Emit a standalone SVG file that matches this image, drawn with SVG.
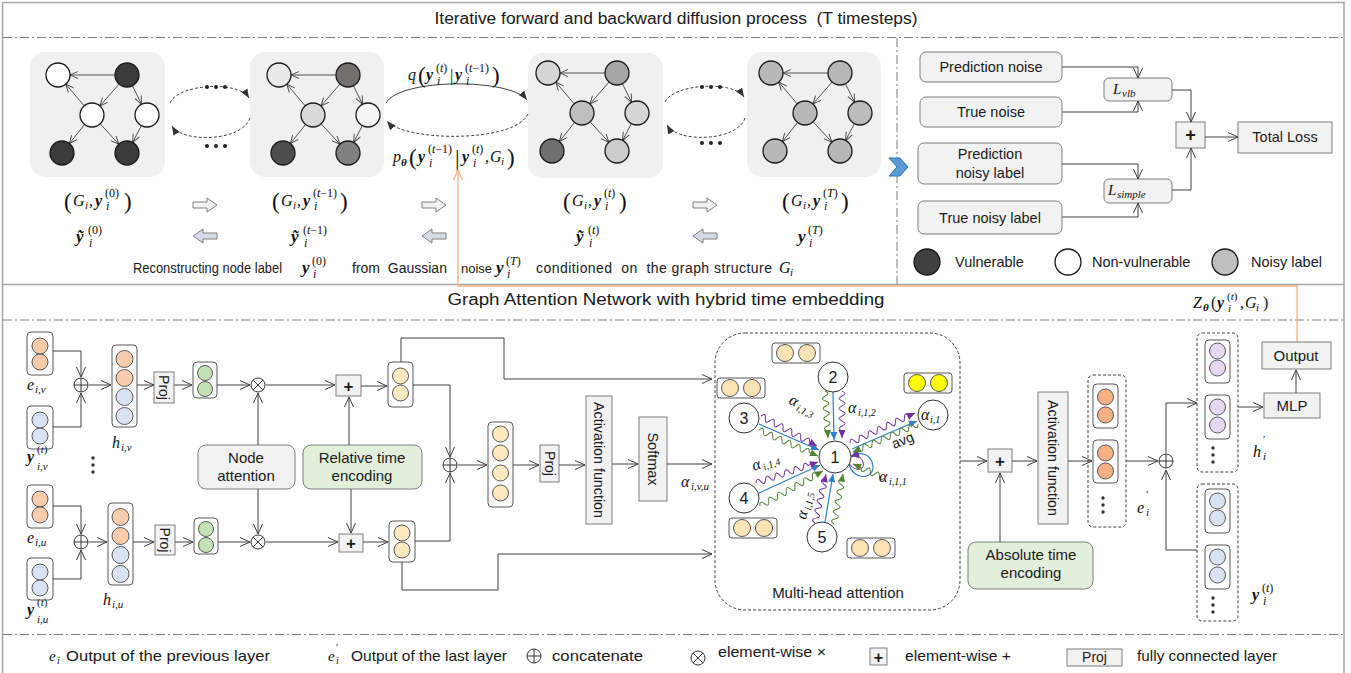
<svg xmlns="http://www.w3.org/2000/svg" width="1351" height="673" viewBox="0 0 1351 673" font-size="14">
<style>
.ln{fill:none;stroke:#404040;stroke-width:1}
.a{marker-end:url(#oa)}
.tx{font-family:"Liberation Sans",Arial,sans-serif;fill:#1a1a1a}
.c{text-anchor:middle}
.mi{font-family:"Liberation Serif","Times New Roman",serif;font-style:italic;font-size:16px;fill:#111}
.up{font-style:normal}
.bi{font-weight:bold}
.s{font-size:11px}
.s2{font-size:12px}
.bp{font-size:23px;font-style:normal}
.bx{fill:#f2f2f2;stroke:#7f7f7f;stroke-width:1}
.gbx{fill:#e2efda;stroke:#7f7f7f;stroke-width:1}
.sk{fill:#fff;stroke:#595959;stroke-width:1}
.cc{stroke:#595959;stroke-width:1}
.co{fill:#f8cbad}
.cb{fill:#dae3f3}
.cg{fill:#c5e0b4}
.cy{fill:#fde8c0}
.cO{fill:#f4b183}
.cp{fill:#e6d7f2}
.dd{fill:none;stroke:#7f7f7f;stroke-width:1;stroke-dasharray:9 3 2 3}
.frm{fill:none;stroke:#a6a6a6;stroke-width:1.5}
.gp{fill:#f0f0f0}
.nd{stroke:#1a1a1a;stroke-width:1.3}
.dash{fill:none;stroke:#404040;stroke-width:1;stroke-dasharray:3 2}
.wb{fill:none;stroke:#2f80c8;stroke-width:1.2;marker-end:url(#mb)}
.wp{fill:none;stroke:#7030a0;stroke-width:1;marker-end:url(#mp)}
.wg{fill:none;stroke:#548235;stroke-width:1;marker-end:url(#mg)}
.an{fill:#fff;stroke:#333;stroke-width:1}
</style>
<defs>
<marker id="oa" markerUnits="userSpaceOnUse" markerWidth="12" markerHeight="12" viewBox="0 0 12 12" refX="11" refY="6" orient="auto"><path d="M1,1.5 L11,6 L1,10.5" fill="none" stroke="#404040" stroke-width="1"/></marker>
<marker id="sa" markerUnits="userSpaceOnUse" markerWidth="9" markerHeight="9" viewBox="0 0 9 9" refX="8.5" refY="4.5" orient="auto"><path d="M0.5,1 L8.5,4.5 L0.5,8" fill="none" stroke="#404040" stroke-width="0.9"/></marker>
<marker id="oo" markerUnits="userSpaceOnUse" markerWidth="12" markerHeight="12" viewBox="0 0 12 12" refX="11" refY="6" orient="auto"><path d="M1,1.5 L11,6 L1,10.5" fill="none" stroke="#f4b183" stroke-width="1.3"/></marker>
<marker id="fa" markerUnits="userSpaceOnUse" markerWidth="9" markerHeight="9" viewBox="0 0 10 10" refX="10" refY="5" orient="auto"><path d="M0,1 L10,5 L0,9 Z" fill="#333"/></marker>
<marker id="mb" markerUnits="userSpaceOnUse" markerWidth="9" markerHeight="8" viewBox="0 0 10 10" refX="10" refY="5" orient="auto"><path d="M0,0.5 L10,5 L0,9.5 Z" fill="#2f80c8"/></marker>
<marker id="mp" markerUnits="userSpaceOnUse" markerWidth="9" markerHeight="8" viewBox="0 0 10 10" refX="10" refY="5" orient="auto"><path d="M0,0.5 L10,5 L0,9.5 Z" fill="#7030a0"/></marker>
<marker id="mg" markerUnits="userSpaceOnUse" markerWidth="9" markerHeight="8" viewBox="0 0 10 10" refX="10" refY="5" orient="auto"><path d="M0,0.5 L10,5 L0,9.5 Z" fill="#548235"/></marker>
<g id="gedges" fill="none" stroke="#404040" stroke-width="0.9" marker-end="url(#sa)">
<path d="M57,0 L12,0"/><path d="M26.2,30.9 L7.8,9.1"/><path d="M61.1,9 L41.9,31"/><path d="M74.4,10.7 L83.6,29.3"/><path d="M26.6,49.4 L11.4,68.6"/><path d="M42.1,48.8 L60.9,69.2"/><path d="M83.4,50.6 L74.6,67.4"/>
</g>
<g id="oplus"><circle r="7" fill="#fff" stroke="#333"/><path d="M-7,0H7M0,-7V7" stroke="#333"/></g>
<g id="otimes"><circle r="7" fill="#fff" stroke="#333"/><path d="M-4.9,-4.9L4.9,4.9M-4.9,4.9L4.9,-4.9" stroke="#333"/></g>
<path id="barR" d="M0,4H14V0L24,7L14,14V10H0Z"/>
<path id="barL" d="M24,4H10V0L0,7L10,14V10H24Z"/>
<g id="vdots" fill="#333"><circle cx="0" cy="-7" r="1.7"/><circle cx="0" cy="0" r="1.7"/><circle cx="0" cy="7" r="1.7"/></g>
<g id="pair"><rect x="0" y="0" width="48" height="20" rx="3" class="sk"/><circle cx="13" cy="10" r="8.5" class="cc"/><circle cx="35" cy="10" r="8.5" class="cc"/></g>
</defs>
<rect width="1351" height="673" fill="#fff"/>

<!-- outer frame and panel separators -->
<g id="frame">
<path class="frm" d="M2.5,673V2.5H1344V673M2.5,284.5H1344"/>
<path class="dd" d="M3,37.5H1344M897,38V284M3,320H1344M3,634.5H1344"/>
<text class="tx c" x="676" y="24" font-size="16" textLength="483" lengthAdjust="spacingAndGlyphs">Iterative forward and backward diffusion process&#160; (T timesteps)</text>
<text class="tx c" x="666" y="305" font-size="16" textLength="437" lengthAdjust="spacingAndGlyphs">Graph Attention Network with hybrid time embedding</text>
</g>

<!-- diffusion chain: graph states -->
<g id="graph-0">
<rect x="30" y="52" width="135" height="125" rx="15" class="gp"/>
<g transform="translate(58,75)"><use href="#gedges"/>
<circle cx="0" cy="0" r="12" class="nd" fill="#fff"/><circle cx="69" cy="0" r="12" class="nd" fill="#3b3b3b"/><circle cx="34" cy="40" r="12" class="nd" fill="#fff"/><circle cx="89" cy="40" r="12" class="nd" fill="#fff"/><circle cx="4" cy="78" r="12" class="nd" fill="#3b3b3b"/><circle cx="69" cy="78" r="12" class="nd" fill="#3b3b3b"/></g>
</g>
<g id="graph-t-1">
<rect x="250" y="52" width="134" height="125" rx="15" class="gp"/>
<g transform="translate(279,75)"><use href="#gedges"/>
<circle cx="0" cy="0" r="12" class="nd" fill="#e9e9e9"/><circle cx="69" cy="0" r="12" class="nd" fill="#747070"/><circle cx="34" cy="40" r="12" class="nd" fill="#d9d9d9"/><circle cx="89" cy="40" r="12" class="nd" fill="#f4f4f4"/><circle cx="4" cy="78" r="12" class="nd" fill="#4d4d4d"/><circle cx="69" cy="78" r="12" class="nd" fill="#808080"/></g>
</g>
<g id="graph-t">
<rect x="528" y="53" width="135" height="125" rx="15" class="gp"/>
<g transform="translate(548,73)"><use href="#gedges"/>
<circle cx="0" cy="0" r="12" class="nd" fill="#d6d6d6"/><circle cx="69" cy="0" r="12" class="nd" fill="#a6a6a6"/><circle cx="34" cy="40" r="12" class="nd" fill="#bfbfbf"/><circle cx="89" cy="40" r="12" class="nd" fill="#d6d6d6"/><circle cx="4" cy="78" r="12" class="nd" fill="#6e6e6e"/><circle cx="69" cy="78" r="12" class="nd" fill="#cccccc"/></g>
</g>
<g id="graph-T">
<rect x="747" y="52" width="134" height="125" rx="15" class="gp"/>
<g transform="translate(771,73)"><use href="#gedges"/>
<circle cx="0" cy="0" r="12" class="nd" fill="#b8b8b8"/><circle cx="69" cy="0" r="12" class="nd" fill="#b8b8b8"/><circle cx="34" cy="40" r="12" class="nd" fill="#b8b8b8"/><circle cx="89" cy="40" r="12" class="nd" fill="#bcbcbc"/><circle cx="4" cy="78" r="12" class="nd" fill="#b8b8b8"/><circle cx="69" cy="78" r="12" class="nd" fill="#b8b8b8"/></g>
</g>

<!-- forward / reverse transitions -->
<g id="transitions">
<path class="dash" d="M170,103 C178,84 238,80 249,98" marker-end="url(#fa)"/>
<path class="dash" d="M250,118 C242,142 182,143 172,126" marker-end="url(#fa)"/>
<path class="ln" stroke="#595959" d="M386,103 C400,78 510,78 527,100" marker-end="url(#fa)"/>
<path class="dash" d="M528,114 C515,143 405,142 387,121" marker-end="url(#fa)"/>
<path class="dash" d="M665,102 C673,84 733,80 744,97" marker-end="url(#fa)"/>
<path class="dash" d="M745,118 C737,142 677,143 667,125" marker-end="url(#fa)"/>
<g fill="#222"><circle cx="207" cy="87" r="2"/><circle cx="216" cy="87" r="2"/><circle cx="225" cy="87" r="2"/><circle cx="207" cy="146" r="2"/><circle cx="216" cy="146" r="2"/><circle cx="225" cy="146" r="2"/>
<circle cx="702" cy="87" r="2"/><circle cx="711" cy="87" r="2"/><circle cx="720" cy="87" r="2"/><circle cx="702" cy="143" r="2"/><circle cx="711" cy="143" r="2"/><circle cx="720" cy="143" r="2"/></g>
<g stroke="#7f7f7f" stroke-width="1">
<use href="#barR" x="193" y="198" fill="#f2f2f2"/><use href="#barL" x="193" y="229" fill="#d6dce5"/>
<use href="#barR" x="422" y="198" fill="#f2f2f2"/><use href="#barL" x="422" y="229" fill="#d6dce5"/>
<use href="#barR" x="693" y="198" fill="#f2f2f2"/><use href="#barL" x="693" y="229" fill="#d6dce5"/>
</g>
<text class="mi" font-size="17"><tspan x="408" y="80">q</tspan><tspan x="418" y="83" class="bp">(</tspan><tspan x="426" y="80" class="bi">y</tspan><tspan x="436" y="72" class="s2 up">(</tspan><tspan class="s2">t</tspan><tspan class="s2 up">)</tspan><tspan x="437" y="85" class="s2">i</tspan><tspan x="450" y="81" class="up">|</tspan><tspan x="455" y="80" class="bi">y</tspan><tspan x="465" y="72" class="s2 up">(</tspan><tspan class="s2">t</tspan><tspan class="s2 up">−1)</tspan><tspan x="466" y="85" class="s2">i</tspan><tspan x="492" y="83" class="bp">)</tspan></text>
<text class="mi"><tspan x="393" y="162">p</tspan><tspan x="401" y="166" class="s bi">θ</tspan><tspan x="409" y="165" class="bp">(</tspan><tspan x="418" y="162" class="bi">y</tspan><tspan x="428" y="153" class="s2 up">(</tspan><tspan class="s2">t</tspan><tspan class="s2 up">−1)</tspan><tspan x="429" y="167" class="s2">i</tspan><tspan x="455" y="166" class="bp" font-size="24">|</tspan><tspan x="462" y="162" class="bi">y</tspan><tspan x="472" y="153" class="s2 up">(</tspan><tspan class="s2">t</tspan><tspan class="s2 up">)</tspan><tspan x="473" y="167" class="s2">i</tspan><tspan x="485" y="162" class="up">,</tspan><tspan x="490" y="162">G</tspan><tspan x="501" y="165" class="s">i</tspan><tspan x="507" y="165" class="bp">)</tspan></text>
</g>

<!-- state labels -->
<g id="state-labels">
<text class="mi"><tspan x="64" y="209" class="bp">(</tspan><tspan x="73" y="206">G</tspan><tspan x="85" y="209" class="s">i</tspan><tspan x="89" y="206" class="up">,</tspan><tspan x="95" y="206" class="bi">y</tspan><tspan x="105" y="197" class="s2 up">(0)</tspan><tspan x="106" y="210" class="s2">i</tspan><tspan x="124" y="209" class="bp">)</tspan></text>
<text class="mi"><tspan x="76" y="242" class="bi" font-size="17">ỹ</tspan><tspan x="88" y="234" class="s2 up">(0)</tspan><tspan x="89" y="247" class="s2">i</tspan></text>
<text class="mi"><tspan x="272" y="209" class="bp">(</tspan><tspan x="281" y="206">G</tspan><tspan x="293" y="209" class="s">i</tspan><tspan x="297" y="206" class="up">,</tspan><tspan x="303" y="206" class="bi">y</tspan><tspan x="313" y="197" class="s2 up">(</tspan><tspan class="s2">t</tspan><tspan class="s2 up">−1)</tspan><tspan x="314" y="210" class="s2">i</tspan><tspan x="340" y="209" class="bp">)</tspan></text>
<text class="mi"><tspan x="291" y="242" class="bi" font-size="17">ỹ</tspan><tspan x="303" y="234" class="s2 up">(</tspan><tspan class="s2">t</tspan><tspan class="s2 up">−1)</tspan><tspan x="304" y="247" class="s2">i</tspan></text>
<text class="mi"><tspan x="563" y="209" class="bp">(</tspan><tspan x="572" y="206">G</tspan><tspan x="584" y="209" class="s">i</tspan><tspan x="588" y="206" class="up">,</tspan><tspan x="594" y="206" class="bi">y</tspan><tspan x="604" y="197" class="s2 up">(</tspan><tspan class="s2">t</tspan><tspan class="s2 up">)</tspan><tspan x="605" y="210" class="s2">i</tspan><tspan x="619" y="209" class="bp">)</tspan></text>
<text class="mi"><tspan x="576" y="242" class="bi" font-size="17">ỹ</tspan><tspan x="588" y="234" class="s2 up">(</tspan><tspan class="s2">t</tspan><tspan class="s2 up">)</tspan><tspan x="589" y="247" class="s2">i</tspan></text>
<text class="mi"><tspan x="782" y="209" class="bp">(</tspan><tspan x="791" y="206">G</tspan><tspan x="803" y="209" class="s">i</tspan><tspan x="807" y="206" class="up">,</tspan><tspan x="813" y="206" class="bi">y</tspan><tspan x="823" y="197" class="s2 up">(</tspan><tspan class="s2">T</tspan><tspan class="s2 up">)</tspan><tspan x="824" y="210" class="s2">i</tspan><tspan x="841" y="209" class="bp">)</tspan></text>
<text class="mi"><tspan x="798" y="242" class="bi" font-size="17">y</tspan><tspan x="808" y="234" class="s2 up">(</tspan><tspan class="s2">T</tspan><tspan class="s2 up">)</tspan><tspan x="809" y="247" class="s2">i</tspan></text>
<text class="tx" x="133" y="273" font-size="14" textLength="149" lengthAdjust="spacingAndGlyphs">Reconstructing node label</text>
<text class="mi"><tspan x="302" y="273" class="bi" font-size="17">y</tspan><tspan x="312" y="265" class="s2 up">(0)</tspan><tspan x="313" y="278" class="s2">i</tspan></text>
<text class="tx" x="352" y="273" font-size="14">from&#160; Gaussian</text>
<text class="tx" x="461" y="273" font-size="13">noise</text>
<text class="mi"><tspan x="496" y="273" class="bi" font-size="17">y</tspan><tspan x="506" y="265" class="s2 up">(</tspan><tspan class="s2">T</tspan><tspan class="s2 up">)</tspan><tspan x="507" y="278" class="s2">i</tspan></text>
<text class="tx" x="536" y="273" font-size="14" textLength="236">conditioned&#160; on&#160; the graph structure</text>
<text class="mi"><tspan x="779" y="273">G</tspan><tspan x="790" y="276" class="s">i</tspan></text>
</g>

<!-- loss computation -->
<g id="loss">
<rect x="920" y="52" width="142" height="30" rx="6" class="bx"/><text class="tx c" x="991" y="72" font-size="14.5">Prediction noise</text>
<rect x="920" y="97" width="142" height="30" rx="6" class="bx"/><text class="tx c" x="991" y="117" font-size="14.5">True noise</text>
<rect x="918" y="143" width="144" height="41" rx="6" class="bx"/><text class="tx c" x="990" y="159" font-size="14.5">Prediction</text><text class="tx c" x="990" y="178" font-size="14.5">noisy label</text>
<rect x="918" y="201" width="144" height="33" rx="6" class="bx"/><text class="tx c" x="990" y="223" font-size="14.5">True noisy label</text>
<rect x="1104" y="78" width="68" height="23" rx="5" class="bx"/><text class="mi"><tspan x="1113" y="94" font-size="15">L</tspan><tspan x="1122" y="97" class="s">vlb</tspan></text>
<rect x="1104" y="179" width="68" height="24" rx="5" class="bx"/><text class="mi"><tspan x="1108" y="195" font-size="15">L</tspan><tspan x="1117" y="198" class="s">simple</tspan></text>
<rect x="1176" y="122" width="29" height="26" class="bx"/><text class="tx c" x="1190.5" y="141" font-size="18" font-weight="bold">+</text>
<rect x="1238" y="122" width="94" height="31" class="bx"/><text class="tx c" x="1285" y="142" font-size="14.5">Total Loss</text>
</g>
<g id="loss-links" class="ln">
<path class="a" d="M1062,67H1138V78"/>
<path class="a" d="M1062,112H1138V101"/>
<path class="a" d="M1172,90H1191V122"/>
<path class="a" d="M1062,164H1138V179"/>
<path class="a" d="M1062,217H1138V203"/>
<path class="a" d="M1172,190H1191V148"/>
<path class="a" d="M1205,137H1238"/>
</g>
<path id="chevron" d="M889,158H900L908,167L900,176H889L897,167Z" fill="#5b9bd5" stroke="#2e75b6" stroke-width="1"/>
<g id="node-legend">
<circle cx="927" cy="262" r="13" class="nd" fill="#404040"/><text class="tx" x="955" y="267" font-size="14.5">Vulnerable</text>
<circle cx="1068" cy="262" r="13" class="nd" fill="#fff"/><text class="tx" x="1092" y="267" font-size="14.5">Non-vulnerable</text>
<circle cx="1225" cy="262" r="13" class="nd" fill="#bfbfbf"/><text class="tx" x="1251" y="267" font-size="14.5">Noisy label</text>
</g>

<!-- feedback from the network output to the reverse step -->
<path id="denoise-link" d="M1297,342V286H458V170" fill="none" stroke="#f4b183" stroke-width="1.3" marker-end="url(#oo)"/>

<!-- input embeddings, node v -->
<g id="inputs-v">
<rect x="27" y="332" width="26" height="43" rx="4" class="sk"/><circle cx="40" cy="346" r="8" class="cc co"/><circle cx="40" cy="362" r="8" class="cc co"/>
<rect x="27" y="406" width="26" height="43" rx="4" class="sk"/><circle cx="40" cy="420" r="8" class="cc cb"/><circle cx="40" cy="436" r="8" class="cc cb"/>
<text class="mi"><tspan x="27" y="390">e</tspan><tspan x="35" y="393" class="s">i,v</tspan></text>
<text class="mi"><tspan x="27" y="462" class="bi">y</tspan><tspan x="37" y="453" class="s up">(</tspan><tspan class="s">t</tspan><tspan class="s up">)</tspan><tspan x="37" y="470" class="s">i,v</tspan></text>
<use href="#oplus" x="81" y="385"/>
<rect x="112" y="345" width="25" height="82" rx="4" class="sk"/><circle cx="124.5" cy="359" r="8.5" class="cc co"/><circle cx="124.5" cy="378" r="8.5" class="cc co"/><circle cx="124.5" cy="397" r="8.5" class="cc cb"/><circle cx="124.5" cy="416" r="8.5" class="cc cb"/>
<text class="mi"><tspan x="112" y="448">h</tspan><tspan x="121" y="451" class="s">i,v</tspan></text>
<rect x="154" y="372" width="20" height="31" class="bx"/><text class="tx c" transform="translate(164,387.5) rotate(90)" dy="5">Proj</text>
<rect x="193" y="362" width="24" height="36" rx="4" class="sk"/><circle cx="205" cy="373" r="7.5" class="cc cg"/><circle cx="205" cy="389" r="7.5" class="cc cg"/>
<use href="#otimes" x="258" y="385"/>
<rect x="336" y="375" width="25" height="21" class="bx"/><text class="tx c" x="348.5" y="391.5" font-size="17" font-weight="bold">+</text>
<rect x="388" y="362" width="25" height="45" rx="4" class="sk"/><circle cx="400.5" cy="376" r="8" class="cc cy"/><circle cx="400.5" cy="393" r="8" class="cc cy"/>
</g>
<use href="#vdots" x="93" y="465"/>

<!-- input embeddings, node u -->
<g id="inputs-u">
<rect x="27" y="485" width="26" height="43" rx="4" class="sk"/><circle cx="40" cy="499" r="8" class="cc co"/><circle cx="40" cy="515" r="8" class="cc co"/>
<rect x="27" y="558" width="26" height="42" rx="4" class="sk"/><circle cx="40" cy="572" r="8" class="cc cb"/><circle cx="40" cy="588" r="8" class="cc cb"/>
<text class="mi"><tspan x="27" y="543">e</tspan><tspan x="35" y="546" class="s">i,u</tspan></text>
<text class="mi"><tspan x="27" y="615" class="bi">y</tspan><tspan x="37" y="606" class="s up">(</tspan><tspan class="s">t</tspan><tspan class="s up">)</tspan><tspan x="37" y="623" class="s">i,u</tspan></text>
<use href="#oplus" x="81" y="542"/>
<rect x="108" y="503" width="25" height="82" rx="4" class="sk"/><circle cx="120.5" cy="517" r="8.5" class="cc co"/><circle cx="120.5" cy="536" r="8.5" class="cc co"/><circle cx="120.5" cy="555" r="8.5" class="cc cb"/><circle cx="120.5" cy="574" r="8.5" class="cc cb"/>
<text class="mi"><tspan x="103" y="605">h</tspan><tspan x="112" y="608" class="s">i,u</tspan></text>
<rect x="155" y="525" width="20" height="30" class="bx"/><text class="tx c" transform="translate(165,540) rotate(90)" dy="5">Proj</text>
<rect x="194" y="518" width="24" height="36" rx="4" class="sk"/><circle cx="206" cy="529" r="7.5" class="cc cg"/><circle cx="206" cy="545" r="7.5" class="cc cg"/>
<use href="#otimes" x="258" y="542"/>
<rect x="339" y="534" width="24" height="18" class="bx"/><text class="tx c" x="351" y="549" font-size="17" font-weight="bold">+</text>
<rect x="389" y="521" width="26" height="41" rx="4" class="sk"/><circle cx="402" cy="533" r="8" class="cc cy"/><circle cx="402" cy="550" r="8" class="cc cy"/>
</g>

<g id="node-attention">
<rect x="198" y="445" width="97" height="44" rx="8" class="bx"/><text class="tx c" x="246" y="463" font-size="15">Node</text><text class="tx c" x="246" y="481" font-size="15">attention</text>
</g>
<g id="relative-time">
<rect x="303" y="445" width="119" height="44" rx="8" class="gbx"/><text class="tx c" x="362" y="463" font-size="15">Relative time</text><text class="tx c" x="362" y="481" font-size="15">encoding</text>
</g>

<!-- edge scoring -->
<g id="edge-score">
<use href="#oplus" x="450" y="465"/>
<rect x="488" y="422" width="25" height="85" rx="4" class="sk"/><circle cx="500.5" cy="434" r="8" class="cc cy"/><circle cx="500.5" cy="453" r="8" class="cc cy"/><circle cx="500.5" cy="473" r="8" class="cc cy"/><circle cx="500.5" cy="493" r="8" class="cc cy"/>
<rect x="540" y="445" width="19" height="37" class="bx"/><text class="tx c" transform="translate(549.5,463.5) rotate(90)" dy="5">Proj</text>
<rect x="586" y="396" width="26" height="128" class="bx"/><text class="tx c" transform="translate(599,460) rotate(90)" dy="5" font-size="14.5" textLength="116" lengthAdjust="spacingAndGlyphs">Activation function</text>
<rect x="639" y="417" width="28" height="84" class="bx"/><text class="tx c" transform="translate(653,459) rotate(90)" dy="5" font-size="14.5">Softmax</text>
<text class="mi"><tspan x="681" y="487">α</tspan><tspan x="691" y="490" class="s">i,v,u</tspan></text>
</g>

<g id="gat-links" class="ln">
<path class="a" d="M53,351H81V377"/>
<path class="a" d="M53,427H81V393"/>
<path class="a" d="M89,385H111"/>
<path class="a" d="M137,385H154"/>
<path class="a" d="M174,385H192"/>
<path class="a" d="M217,385H250"/>
<path class="a" d="M266,385H335"/>
<path class="a" d="M361,386H387"/>
<path class="a" d="M258,445V393"/>
<path class="a" d="M258,489V534"/>
<path class="a" d="M349,445V397"/>
<path class="a" d="M351,489V533"/>
<path class="a" d="M53,506H81V534"/>
<path class="a" d="M53,579H81V550"/>
<path class="a" d="M89,542H107"/>
<path class="a" d="M133,542H154"/>
<path class="a" d="M175,542H193"/>
<path class="a" d="M218,542H250"/>
<path class="a" d="M266,542H338"/>
<path class="a" d="M363,542H388"/>
<path class="a" d="M413,385H450V457"/>
<path class="a" d="M415,541H450V473"/>
<path class="a" d="M401,362V338H504V379H712"/>
<path class="a" d="M402,562V590H498V554H712"/>
<path class="a" d="M458,465H487"/>
<path class="a" d="M513,465H539"/>
<path class="a" d="M559,465H585"/>
<path class="a" d="M612,464H638"/>
<path class="a" d="M667,464H712"/>
</g>

<!-- multi-head attention over neighbours -->
<g id="multi-head">
<rect x="715" y="333" width="245" height="277" rx="30" class="dash"/>
<text class="tx c" x="838" y="598" font-size="15">Multi-head attention</text>
<use href="#pair" x="772" y="343" fill="#fbe3b5"/>
<use href="#pair" x="717" y="378" fill="#fbe3b5"/>
<use href="#pair" x="904" y="373" fill="#ffff00"/>
<use href="#pair" x="729" y="518" fill="#fbe3b5"/>
<use href="#pair" x="847" y="538" fill="#fbe3b5"/>
<path class="wb" d="M833,392L834,440"/>
<path class="wb" d="M759,424L819,450"/>
<path class="wb" d="M759,493L820,465"/>
<path class="wb" d="M825,522L833,474"/>
<path class="wb" d="M852,449L917,421" stroke-width="2"/>
<path class="wb" d="M849,464C853,482 878,480 872,462C868,452 858,452 851,457"/>
<path class="wp" d="M848,461C852,472 866,472 863,462C861,456 856,455 851,456"/>
<path class="wp" transform="translate(842,391) rotate(90)" d="M0,0q2.5,-6 5,0t5,0t5,0t5,0t5,0t5,0t5,0t5,0h7"/>
<path class="wg" transform="translate(825,391) rotate(86.3)" d="M0,0q2.5,-6 5,0t5,0t5,0t5,0t5,0t5,0t5,0t5,0h7"/>
<path class="wp" transform="translate(761,416) rotate(28.2)" d="M0,0q2.5,-6 5,0t5,0t5,0t5,0t5,0t5,0t5,0t5,0t5,0t5,0t5,0h8.5"/>
<path class="wg" transform="translate(759,430) rotate(23.8)" d="M0,0q2.5,-6 5,0t5,0t5,0t5,0t5,0t5,0t5,0t5,0t5,0t5,0t5,0h9.5"/>
<path class="wp" transform="translate(756,483) rotate(-18.7)" d="M0,0q2.5,-6 5,0t5,0t5,0t5,0t5,0t5,0t5,0t5,0t5,0t5,0t5,0h10.5"/>
<path class="wg" transform="translate(760,506) rotate(-29.1)" d="M0,0q2.5,-6 5,0t5,0t5,0t5,0t5,0t5,0t5,0t5,0t5,0t5,0t5,0t5,0t5,0h7"/>
<path class="wp" transform="translate(815,523) rotate(-77.3)" d="M0,0q2.5,-6 5,0t5,0t5,0t5,0t5,0t5,0t5,0t5,0t5,0h5"/>
<path class="wg" transform="translate(834,524) rotate(-79.8)" d="M0,0q2.5,-6 5,0t5,0t5,0t5,0t5,0t5,0t5,0t5,0t5,0h6"/>
<path class="wp" transform="translate(850,443) rotate(-24.8)" d="M0,0q2.5,-6 5,0t5,0t5,0t5,0t5,0t5,0t5,0t5,0t5,0t5,0t5,0t5,0t5,0h6.5"/>
<path class="wg" transform="translate(918,424) rotate(156.7)" d="M0,0q2.5,-6 5,0t5,0t5,0t5,0t5,0t5,0t5,0t5,0t5,0t5,0t5,0t5,0t5,0h6"/>
<path class="wg" transform="translate(884,478) rotate(204.3)" d="M0,0q2.5,-6 5,0t5,0t5,0t5,0t5,0h9"/>
<circle cx="835" cy="457" r="16" class="an"/><text class="tx c" x="835" y="463" font-size="16">1</text>
<circle cx="833" cy="377" r="15" class="an"/><text class="tx c" x="833" y="383" font-size="16">2</text>
<circle cx="744" cy="418" r="15" class="an"/><text class="tx c" x="744" y="424" font-size="16">3</text>
<circle cx="744" cy="498" r="15" class="an"/><text class="tx c" x="744" y="504" font-size="16">4</text>
<circle cx="822" cy="537" r="15" class="an"/><text class="tx c" x="822" y="543" font-size="16">5</text>
<circle cx="933" cy="415" r="15" class="an"/><text class="mi"><tspan x="921" y="420">α</tspan><tspan x="930" y="423" font-size="10">i,1</tspan></text>
<text class="mi"><tspan x="848" y="413">α</tspan><tspan x="858" y="416" font-size="10">i,1,2</tspan></text>
<text class="mi" transform="translate(788,403) rotate(28)"><tspan x="0" y="0">α</tspan><tspan x="10" y="3" font-size="10">i,1,3</tspan></text>
<text class="mi" transform="translate(754,471) rotate(-20)"><tspan x="0" y="0">α</tspan><tspan x="10" y="3" font-size="10">i,1,4</tspan></text>
<text class="mi" transform="translate(806,520) rotate(-78)"><tspan x="0" y="0">α</tspan><tspan x="10" y="3" font-size="10">i,1,5</tspan></text>
<text class="mi"><tspan x="879" y="482">α</tspan><tspan x="889" y="485" font-size="10">i,1,1</tspan></text>
<text class="tx" transform="translate(894,449) rotate(-22)" font-size="14">avg</text>
</g>

<!-- aggregation, residual and output head -->
<g id="output-head">
<rect x="988" y="449" width="24" height="23" class="bx"/><text class="tx c" x="1000" y="467" font-size="17" font-weight="bold">+</text>
<rect x="968" y="542" width="125" height="47" rx="8" class="gbx"/><text class="tx c" x="1031" y="560" font-size="15">Absolute time</text><text class="tx c" x="1031" y="578" font-size="15">encoding</text>
<rect x="1038" y="392" width="30" height="132" class="bx"/><text class="tx c" transform="translate(1053,458) rotate(90)" dy="5" font-size="14.5" textLength="116" lengthAdjust="spacingAndGlyphs">Activation function</text>
<rect x="1088" y="375" width="38" height="152" rx="5" class="dash"/>
<rect x="1093" y="384" width="25" height="44" rx="4" class="sk"/><circle cx="1105.5" cy="397" r="8" class="cc cO"/><circle cx="1105.5" cy="415" r="8" class="cc cO"/>
<rect x="1093" y="440" width="25" height="43" rx="4" class="sk"/><circle cx="1105.5" cy="453" r="8" class="cc cO"/><circle cx="1105.5" cy="471" r="8" class="cc cO"/>
<use href="#vdots" x="1103" y="505"/>
<text class="mi"><tspan x="1137" y="513">e</tspan><tspan x="1146" y="498" class="s up">′</tspan><tspan x="1146" y="516" class="s">i</tspan></text>
<use href="#oplus" x="1166" y="461"/>
<rect x="1197" y="333" width="41" height="139" rx="5" class="dash"/>
<rect x="1205" y="340" width="25" height="43" rx="4" class="sk"/><circle cx="1217.5" cy="351" r="8" class="cc cp"/><circle cx="1217.5" cy="368" r="8" class="cc cp"/>
<rect x="1205" y="395" width="25" height="44" rx="4" class="sk"/><circle cx="1217.5" cy="407" r="8" class="cc cp"/><circle cx="1217.5" cy="425" r="8" class="cc cp"/>
<use href="#vdots" x="1213" y="455"/>
<text class="mi"><tspan x="1253" y="457">h</tspan><tspan x="1263" y="443" class="s up">′</tspan><tspan x="1263" y="460" class="s">i</tspan></text>
<rect x="1197" y="484" width="41" height="137" rx="5" class="dash"/>
<rect x="1205" y="489" width="25" height="44" rx="4" class="sk"/><circle cx="1217.5" cy="501" r="8" class="cc cb"/><circle cx="1217.5" cy="518" r="8" class="cc cb"/>
<rect x="1205" y="545" width="25" height="44" rx="4" class="sk"/><circle cx="1217.5" cy="557" r="8" class="cc cb"/><circle cx="1217.5" cy="575" r="8" class="cc cb"/>
<use href="#vdots" x="1213" y="605"/>
<text class="mi"><tspan x="1252" y="600" class="bi">y</tspan><tspan x="1262" y="592" class="s2 up">(</tspan><tspan class="s2">t</tspan><tspan class="s2 up">)</tspan><tspan x="1263" y="605" class="s2">i</tspan></text>
<rect x="1264" y="393" width="56" height="25" class="bx"/><text class="tx c" x="1292" y="411" font-size="15">MLP</text>
<rect x="1262" y="342" width="69" height="27" class="bx"/><text class="tx c" x="1296" y="361" font-size="15">Output</text>
<text class="mi"><tspan x="1193" y="308">Z</tspan><tspan x="1203" y="311" class="s bi">θ</tspan><tspan x="1211" y="308" class="up">(</tspan><tspan x="1217" y="308" class="bi">y</tspan><tspan x="1227" y="300" class="s up">(</tspan><tspan class="s">t</tspan><tspan class="s up">)</tspan><tspan x="1228" y="312" class="s">i</tspan><tspan x="1240" y="308" class="up">,</tspan><tspan x="1245" y="308">G</tspan><tspan x="1256" y="311" class="s">i</tspan><tspan x="1263" y="308" class="up">)</tspan></text>
</g>
<g id="output-links" class="ln">
<path class="a" d="M960,461H987"/>
<path class="a" d="M1000,542V473"/>
<path class="a" d="M1012,461H1037"/>
<path class="a" d="M1068,461H1092"/>
<path class="a" d="M1126,461H1158"/>
<path class="a" d="M1166,453V403H1197"/>
<path class="a" d="M1197,550H1166V470"/>
<path class="a" d="M1238,407H1263"/>
<path class="a" d="M1296,393V370"/>
</g>

<!-- symbol legend -->
<g id="symbol-legend">
<text class="mi"><tspan x="49" y="661" font-size="15">e</tspan><tspan x="57" y="664" font-size="10">i</tspan></text>
<text class="tx" x="66" y="661" font-size="15" textLength="204" lengthAdjust="spacingAndGlyphs">Output of the previous layer</text>
<text class="mi"><tspan x="328" y="661" font-size="15">e</tspan><tspan x="336" y="651" font-size="10" class="up">′</tspan><tspan x="336" y="664" font-size="10">i</tspan></text>
<text class="tx" x="351" y="661" font-size="15" textLength="156" lengthAdjust="spacingAndGlyphs">Output of the last layer</text>
<use href="#oplus" x="534" y="656"/>
<text class="tx" x="552" y="661" font-size="15" textLength="91" lengthAdjust="spacingAndGlyphs">concatenate</text>
<use href="#otimes" x="698" y="658"/>
<text class="tx" x="718" y="657" font-size="15" textLength="108" lengthAdjust="spacingAndGlyphs">element-wise ×</text>
<rect x="870" y="648" width="17" height="17" class="bx"/><text class="tx c" x="878.5" y="662.5" font-size="16" font-weight="bold">+</text>
<text class="tx" x="905" y="661" font-size="15" textLength="106" lengthAdjust="spacingAndGlyphs">element-wise +</text>
<rect x="1067" y="649" width="55" height="17" class="bx"/><text class="tx c" x="1094.5" y="662" font-size="14">Proj</text>
<text class="tx" x="1137" y="661" font-size="15" textLength="140" lengthAdjust="spacingAndGlyphs">fully connected layer</text>
</g>
</svg>
